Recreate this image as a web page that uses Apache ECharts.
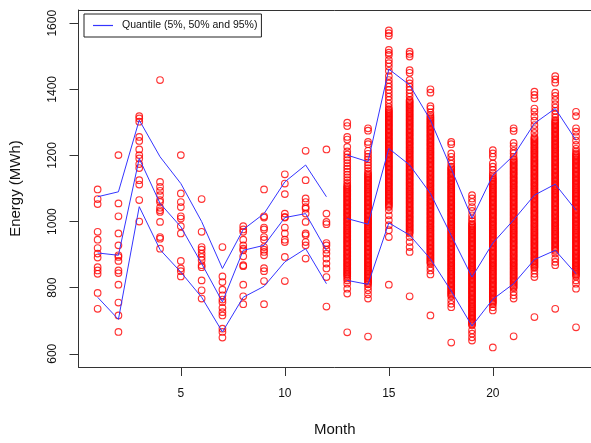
<!DOCTYPE html>
<html>
<head>
<meta charset="utf-8">
<script src="https://cdn.jsdelivr.net/npm/echarts@6/dist/echarts.min.js"></script>
<style>html,body{margin:0;padding:0;background:#fff}#chart{width:591px;height:443px}</style>
</head>
<body>
<div id="chart"></div>
<script>
const xTicks = [5, 10, 15, 20];
const yTicks = [600, 800, 1000, 1200, 1400, 1600];
const legendLabel = 'Quantile (5%, 50% and 95%)';

// Quantile lines (months 1-24); months 1-12 and 13-24 are drawn as separate segments
const histMonths = [1,2,3,4,5,6,7,8,9,10,11,12];
const simMonths = [13,14,15,16,17,18,19,20,21,22,23,24];
const q95 = [1075,1090,1307,1196,1115,1000,858,976,1024,1120,1171,1075, 1201,1181,1461,1413,1307,1160,1010,1140,1200,1297,1342,1246];
const q50 = [905,898,1191,1055,984,873,757,913,928,1012,1024,913, 1009,992,1221,1171,1085,958,832,935,1005,1080,1113,1034];
const q05 = [771,704,1045,915,847,771,666,771,804,878,918,812, 822,810,996,959,887,790,684,765,812,885,913,842];

// Observed energy, months 1-12
const observed = [
  [1097,1068,1053,969,945,920,903,891,862,852,842,784,736],
  [1201,1055,1016,964,928,898,893,881,852,844,809,755,716,666],
  [1319,1312,1302,1256,1244,1218,1201,1191,1174,1162,1125,1112,1065,1000],
  [1428,1120,1105,1093,1080,1065,1059,1042,1034,1029,999,953,948,918],
  [1201,1085,1059,1044,1016,1009,986,964,881,858,850,834],
  [1068,969,923,915,903,893,883,868,862,822,792,767],
  [923,834,817,794,777,764,756,739,726,716,676,666,649],
  [986,976,969,945,928,918,913,895,868,865,809,774,750],
  [1097,1016,1012,982,976,953,945,923,915,908,898,859,850,820,750],
  [1143,1115,1083,1024,1014,1012,982,964,945,938,893,820],
  [1214,1125,1070,1059,1044,1039,1024,999,964,959,938,928,888],
  [1218,1024,999,992,935,928,915,903,888,873,858,832,743]
];

// Simulated energy, months 13-24
const simulated = [
  [1299,1289,1256,1248,1226,1212,1203,1194,1186,1177,1168,1160,1151,1142,1134,1125,1117,1110,
   1106,1102,1098,1094,1090,1086,1082,1078,1074,1070,1066,1062,1058,1054,1050,1046,1042,1038,1034,1030,1026,1022,1018,1014,1010,1006,1002,998,994,990,986,982,978,974,970,966,962,958,954,950,946,942,938,934,930,926,922,918,914,910,906,902,898,894,890,886,882,878,874,870,866,862,858,854,850,846,842,838,834,
   828,822,812,797,782,665],
  [1282,1275,1241,1234,1214,1205,1196,1188,1179,1170,1162,1153,
   1146,1142,1138,1134,1130,1126,1122,1118,1114,1110,1106,1102,1098,1094,1090,1086,1082,1078,1074,1070,1066,1062,1058,1054,1050,1046,1042,1038,1034,1030,1026,1022,1018,1014,1010,1006,1002,998,994,990,986,982,978,974,970,966,962,958,954,950,946,942,938,934,930,926,922,918,914,910,906,902,898,894,890,886,882,878,874,870,866,862,858,854,850,846,842,838,834,830,826,822,818,814,810,
   802,792,780,767,652],
  [1578,1570,1562,1519,1511,1504,1489,1479,1469,1456,1440,1428,1418,1408,1398,1388,1378,1368,1357,1347,
   1340,1336,1332,1328,1324,1320,1316,1312,1308,1304,1300,1296,1292,1288,1284,1280,1276,1272,1268,1264,1260,1256,1252,1248,1244,1240,1236,1232,1228,1224,1220,1216,1212,1208,1204,1200,1196,1192,1188,1184,1180,1176,1172,1168,1164,1160,1156,1152,1148,1144,1140,1136,1132,1128,1124,1120,1116,1112,1108,1104,1100,1096,1092,1088,1084,1080,1076,1072,1068,1064,1060,1056,1052,1048,1044,
   1034,1019,1004,989,974,953,809],
  [1514,1507,1499,1458,1450,1428,1418,1408,1398,1388,1378,
   1368,1364,1360,1356,1352,1348,1344,1340,1336,1332,1328,1324,1320,1316,1312,1308,1304,1300,1296,1292,1288,1284,1280,1276,1272,1268,1264,1260,1256,1252,1248,1244,1240,1236,1232,1228,1224,1220,1216,1212,1208,1204,1200,1196,1192,1188,1184,1180,1176,1172,1168,1164,1160,1156,1152,1148,1144,1140,1136,1132,1128,1124,1120,1116,1112,1108,1104,1100,1096,1092,1088,1084,1080,1076,1072,1068,1064,1060,1056,1052,1048,1044,1040,1036,1032,1028,1024,1020,1016,1012,1008,1004,1000,996,992,988,984,980,976,972,968,964,
   953,938,923,908,774],
  [1400,1390,1349,1342,1330,1322,
   1317,1313,1309,1305,1301,1297,1293,1289,1285,1281,1277,1273,1269,1265,1261,1257,1253,1249,1245,1241,1237,1233,1229,1225,1221,1217,1213,1209,1205,1201,1197,1193,1189,1185,1181,1177,1173,1169,1165,1161,1157,1153,1149,1145,1141,1137,1133,1129,1125,1121,1117,1113,1109,1105,1101,1097,1093,1089,1085,1081,1077,1073,1069,1065,1061,1057,1053,1049,1045,1041,1037,1033,1029,1025,1021,1017,1013,1009,1005,1001,997,993,989,985,981,977,973,969,965,961,957,953,949,945,941,937,933,929,925,921,917,913,909,905,901,897,893,889,885,881,877,873,
   862,852,840,716],
  [1241,1234,1206,1196,1184,1175,
   1166,1162,1158,1154,1150,1146,1142,1138,1134,1130,1126,1122,1118,1114,1110,1106,1102,1098,1094,1090,1086,1082,1078,1074,1070,1066,1062,1058,1054,1050,1046,1042,1038,1034,1030,1026,1022,1018,1014,1010,1006,1002,998,994,990,986,982,978,974,970,966,962,958,954,950,946,942,938,934,930,926,922,918,914,910,906,902,898,894,890,886,882,878,874,870,866,862,858,854,850,846,842,838,834,830,826,822,818,814,810,806,802,798,794,790,786,782,778,774,
   762,751,741,634],
  [1080,1070,1059,1044,1032,1019,1009,1001,
   994,990,986,982,978,974,970,966,962,958,954,950,946,942,938,934,930,926,922,918,914,910,906,902,898,894,890,886,882,878,874,870,866,862,858,854,850,846,842,838,834,830,826,822,818,814,810,806,802,798,794,790,786,782,778,774,770,766,762,758,754,750,746,742,738,734,730,726,722,718,714,710,706,702,698,694,690,686,
   671,661,650,640],
  [1216,1206,1196,1176,1166,1156,1146,1140,
   1134,1130,1126,1122,1118,1114,1110,1106,1102,1098,1094,1090,1086,1082,1078,1074,1070,1066,1062,1058,1054,1050,1046,1042,1038,1034,1030,1026,1022,1018,1014,1010,1006,1002,998,994,990,986,982,978,974,970,966,962,958,954,950,946,942,938,934,930,926,922,918,914,910,906,902,898,894,890,886,882,878,874,870,866,862,858,854,850,846,842,838,834,830,826,822,818,814,810,806,802,798,794,790,786,782,778,774,770,766,762,758,754,750,
   741,731,619],
  [1282,1274,1238,1228,1214,1206,1196,1190,
   1186,1182,1178,1174,1170,1166,1162,1158,1154,1150,1146,1142,1138,1134,1130,1126,1122,1118,1114,1110,1106,1102,1098,1094,1090,1086,1082,1078,1074,1070,1066,1062,1058,1054,1050,1046,1042,1038,1034,1030,1026,1022,1018,1014,1010,1006,1002,998,994,990,986,982,978,974,970,966,962,958,954,950,946,942,938,934,930,926,922,918,914,910,906,902,898,894,890,886,882,878,874,870,866,862,858,854,850,846,842,838,834,830,826,822,818,814,810,806,802,798,
   787,777,767,653],
  [1393,1383,1373,1342,1332,1318,1305,1292,1280,1268,
   1256,1252,1248,1244,1240,1236,1232,1228,1224,1220,1216,1212,1208,1204,1200,1196,1192,1188,1184,1180,1176,1172,1168,1164,1160,1156,1152,1148,1144,1140,1136,1132,1128,1124,1120,1116,1112,1108,1104,1100,1096,1092,1088,1084,1080,1076,1072,1068,1064,1060,1056,1052,1048,1044,1040,1036,1032,1028,1024,1020,1016,1012,1008,1004,1000,996,992,988,984,980,976,972,968,964,960,956,952,948,944,940,936,932,928,924,920,916,912,908,904,900,896,892,888,884,880,876,872,868,864,860,
   852,842,832,711],
  [1440,1430,1420,1390,1380,1368,1355,1345,1335,1325,1315,
   1307,1303,1299,1295,1291,1287,1283,1279,1275,1271,1267,1263,1259,1255,1251,1247,1243,1239,1235,1231,1227,1223,1219,1215,1211,1207,1203,1199,1195,1191,1187,1183,1179,1175,1171,1167,1163,1159,1155,1151,1147,1143,1139,1135,1131,1127,1123,1119,1115,1111,1107,1103,1099,1095,1091,1087,1083,1079,1075,1071,1067,1063,1059,1055,1051,1047,1043,1039,1035,1031,1027,1023,1019,1015,1011,1007,1003,999,995,991,987,983,979,975,971,967,963,959,955,951,947,943,939,935,931,927,923,919,915,911,
   903,888,878,868,736],
  [1332,1319,1282,1272,1258,1245,1232,1220,1212,
   1206,1202,1198,1194,1190,1186,1182,1178,1174,1170,1166,1162,1158,1154,1150,1146,1142,1138,1134,1130,1126,1122,1118,1114,1110,1106,1102,1098,1094,1090,1086,1082,1078,1074,1070,1066,1062,1058,1054,1050,1046,1042,1038,1034,1030,1026,1022,1018,1014,1010,1006,1002,998,994,990,986,982,978,974,970,966,962,958,954,950,946,942,938,934,930,926,922,918,914,910,906,902,898,894,890,886,882,878,874,870,866,862,858,854,850,846,842,838,834,
   822,812,797,680]
];

const FONT = "'Liberation Sans', Arial, sans-serif";
const RED = '#ff0000';
const BLUE = '#3535ff';
const FRAME = '#333';

function toPoints(months, lists) {
  const pts = [];
  lists.forEach((vals, i) => vals.forEach(v => pts.push([months[i], v])));
  return pts;
}
function lineSeg(months, q, offset) {
  return {
    name: legendLabel, type: 'line', symbol: 'none', z: 5,
    data: months.map((m, i) => [m, q[offset + i]]),
    lineStyle: { color: BLUE, width: 1 }, itemStyle: { color: BLUE },
    animation: false, silent: true
  };
}
const scatterStyle = { color: 'rgba(255,255,255,0)', borderColor: RED, borderWidth: 1.15 };
const plain = v => String(v);

const chart = echarts.init(document.getElementById('chart'), null, { renderer: 'canvas' });
chart.setOption({
  animation: false,
  backgroundColor: '#fff',
  grid: { left: 78.5, top: 10, right: 0, bottom: 76, show: false },
  legend: {
    data: [legendLabel], left: 84, top: 14, icon: 'rect', itemWidth: 20, itemHeight: 1.2,
    padding: [6, 4, 6, 9], borderColor: '#222', borderWidth: 1, backgroundColor: '#fff',
    textStyle: { fontSize: 10.5, color: '#111', fontFamily: FONT, padding: [0, 0, 0, 4] },
    selectedMode: false
  },
  xAxis: [{
    type: 'value', min: 0.08, max: 24.72, position: 'bottom',
    name: 'Month', nameLocation: 'middle', nameGap: 55,
    nameTextStyle: { fontSize: 15, color: '#111', fontFamily: FONT },
    axisLine: { show: true, onZero: false, lineStyle: { color: FRAME, width: 1 } },
    axisTick: { show: true, customValues: xTicks, length: 9, lineStyle: { color: FRAME } },
    axisLabel: { customValues: xTicks, formatter: plain, fontSize: 12, color: '#111', fontFamily: FONT, margin: 21 },
    splitLine: { show: false }
  }, {
    type: 'value', min: 0.08, max: 24.72, position: 'top',
    axisLine: { show: true, onZero: false, lineStyle: { color: FRAME, width: 1 } },
    axisTick: { show: false }, axisLabel: { show: false }, splitLine: { show: false }
  }],
  yAxis: {
    type: 'value', min: 560, max: 1640,
    name: 'Energy (MWh)', nameLocation: 'middle', nameGap: 55,
    nameTextStyle: { fontSize: 15, color: '#111', fontFamily: FONT },
    axisLine: { show: true, onZero: false, lineStyle: { color: FRAME, width: 1 } },
    axisTick: { show: true, customValues: yTicks, length: 9, lineStyle: { color: FRAME } },
    axisLabel: { customValues: yTicks, formatter: plain, rotate: 90, fontSize: 12, color: '#111', fontFamily: FONT, margin: 20 },
    splitLine: { show: false }
  },
  series: [
    { name: 'observed', type: 'scatter', symbol: 'circle', symbolSize: 6.6, data: toPoints(histMonths, observed), itemStyle: scatterStyle, silent: true, z: 2 },
    { name: 'simulated', type: 'scatter', symbol: 'circle', symbolSize: 6.6, data: toPoints(simMonths, simulated), itemStyle: scatterStyle, silent: true, z: 2, large: false },
    lineSeg(histMonths, q95, 0), lineSeg(histMonths, q50, 0), lineSeg(histMonths, q05, 0),
    lineSeg(simMonths, q95, 12), lineSeg(simMonths, q50, 12), lineSeg(simMonths, q05, 12)
  ]
});
</script>
</body>
</html>
